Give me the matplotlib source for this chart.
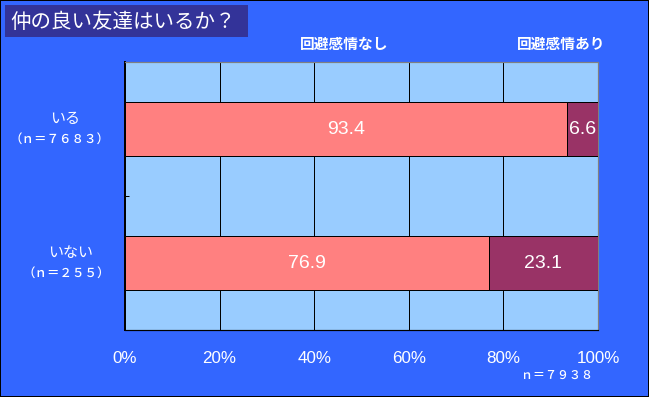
import matplotlib
matplotlib.use("Agg")
import matplotlib.pyplot as plt
from matplotlib.patches import Rectangle

# ---- data ----
title = "仲の良い友達はいるか？"
categories = ["いる", "いない"]
n_labels = ["（ｎ＝７６８３）", "（ｎ＝２５５）"]
series_names = ["回避感情なし", "回避感情あり"]
no_avoid = [93.4, 76.9]
avoid = [6.6, 23.1]
x_ticks = [0, 20, 40, 60, 80, 100]
x_ticklabels = ["0%", "20%", "40%", "60%", "80%", "100%"]
total_note = "ｎ＝７９３８"

# ---- style ----
BG = "#3366FF"
PLOT_BG = "#99CCFF"
C1 = "#FF8080"
C2 = "#993366"
NAVY = "#333399"
JP = ["Noto Sans CJK JP", "DejaVu Sans"]
NUM = ["Liberation Sans", "DejaVu Sans"]

W, H = 649, 397
DPI = 100
PX = 72 / DPI  # points per pixel

fig = plt.figure(figsize=(W / DPI, H / DPI), dpi=DPI, facecolor=BG)
ax = fig.add_axes([125 / W, (H - 330) / H, (598 - 125) / W, (330 - 62) / H])
ax.set_facecolor(PLOT_BG)

y = list(range(len(categories)))
ax.barh(y, no_avoid, height=0.4, color=C1, edgecolor="black", linewidth=1 * PX, zorder=3)
ax.barh(y, avoid, left=no_avoid, height=0.4, color=C2, edgecolor="black", linewidth=1 * PX, zorder=3)

ax.set_xlim(0, 100)
ax.set_ylim(len(categories) - 0.5, -0.5)

# value labels
for i in y:
    ax.text(no_avoid[i] / 2, i, f"{no_avoid[i]:.1f}", ha="center", va="center",
            color="white", fontsize=19.5 * PX, family=NUM, zorder=4)
    ax.text(no_avoid[i] + avoid[i] / 2, i, f"{avoid[i]:.1f}", ha="center", va="center",
            color="white", fontsize=19.5 * PX, family=NUM, zorder=4)

# grid
ax.set_xticks(x_ticks)
ax.set_xticklabels(x_ticklabels, family=NUM, fontsize=17 * PX, color="white")
ax.tick_params(axis="x", length=0, pad=21 * PX)
ax.grid(axis="x", color="black", linewidth=1 * PX, zorder=1)
ax.set_axisbelow(True)

ax.set_yticks([0.5])
ax.set_yticklabels([""])
ax.tick_params(axis="y", direction="in", length=4 * PX, width=1 * PX, color="black")

for s in ["left", "bottom"]:
    ax.spines[s].set_color("black")
ax.spines["left"].set_linewidth(2 * PX)
ax.spines["bottom"].set_linewidth(1.2 * PX)
for s in ["top", "right"]:
    ax.spines[s].set_color("#808080")
    ax.spines[s].set_linewidth(1.2 * PX)

# category labels
name_centers = [65, 71]
for i in y:
    ax.annotate(categories[i], xy=(name_centers[i], i), xycoords=("figure pixels", "data"),
                xytext=(0, 9.5 * PX), textcoords="offset points", ha="center", va="center",
                color="white", fontsize=15 * PX, family=JP, annotation_clip=False)
    ax.annotate(n_labels[i], xy=(110, i), xycoords=("figure pixels", "data"),
                xytext=(0, -10.5 * PX), textcoords="offset points", ha="right", va="center",
                color="white", fontsize=12.5 * PX, family=JP, fontweight="medium",
                annotation_clip=False)

# series headers
for name, cx in zip(series_names, [344, 561]):
    fig.text(cx / W, 1 - 44 / H, name, ha="center", va="center", color="white",
             fontsize=14.7 * PX, family=JP, fontweight="bold")

# n note
fig.text(593 / W, 1 - 375 / H, total_note, ha="right", va="center", color="white",
         fontsize=12 * PX, family=JP, fontweight="medium")

# title box
fig.patches.append(Rectangle((5 / W, 1 - 37 / H), (248 - 5) / W, 32 / H,
                             transform=fig.transFigure, facecolor=NAVY, edgecolor="none"))
fig.text(10 / W, 1 - 21.5 / H, title, ha="left", va="center", color="white",
         fontsize=20.5 * PX, family=JP)

# figure border
fig.patches.append(Rectangle((0, 0), 1, 1, transform=fig.transFigure, fill=False,
                             edgecolor="black", linewidth=2 * PX))

fig.savefig("out.png", dpi=DPI, facecolor=BG)
